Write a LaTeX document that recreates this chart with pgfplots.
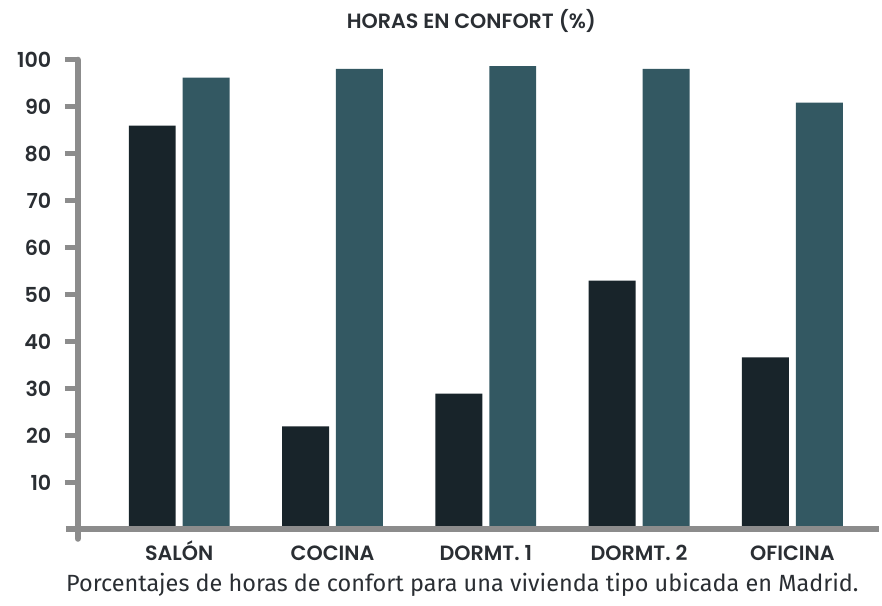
\documentclass[border=0pt]{standalone}
\usepackage{pgfplots}
\pgfplotsset{compat=1.18}
\usepackage{fontspec}
\setmainfont{Fira Sans}
\newfontfamily\pop{Poppins}[UprightFont=* SemiBold]
\definecolor{darkbar}{HTML}{18242A}
\definecolor{tealbar}{HTML}{335862}
\definecolor{axgray}{HTML}{8C8C8C}
\definecolor{txt}{HTML}{2A2E33}
\begin{document}
\begin{tikzpicture}
\begin{axis}[
  scale only axis,
  width=601.5pt, height=352.5pt,
  xmin=-0.661, xmax=4.564,
  ymin=0, ymax=100,
  axis on top=true,
  axis x line*=bottom, axis y line*=left,
  axis line style={-, line width=4.8pt, color=axgray},
  x axis line style={shorten <=-9pt},
  y axis line style={shorten <=-7pt, line cap=round},
  xtick={0,1,2,3,4},
  xticklabels={SALÓN, COCINA, DORMT. 1, DORMT. 2, OFICINA},
  ytick={10,20,...,100},
  major x tick style={draw=none},
  tick align=outside,
  major tick length=9.75pt,
  major y tick style={line width=3.8pt, color=axgray},
  xticklabel style={font=\pop\fontsize{15.5}{16}\selectfont, text=txt, anchor=base, inner sep=0pt, yshift=-14pt},
  yticklabel style={font=\pop\fontsize{15.5}{16}\selectfont, text=txt, anchor=east, inner sep=0pt, xshift=-10pt},
  /pgf/number format/assume math mode=true,
  ybar, bar width=35.25pt,
  clip=false,
]
\addplot[fill=darkbar, draw=none, bar shift=-20.25pt] coordinates {(0,86.0) (1,21.9) (2,28.9) (3,53.0) (4,36.6)};
\addplot[fill=tealbar, draw=none, bar shift=20.25pt] coordinates {(0,96.2) (1,98.1) (2,98.7) (3,98.1) (4,90.9)};
\coordinate (O) at (rel axis cs:0,0);
\end{axis}
\node[font=\pop\fontsize{15.5}{16}\selectfont, text=txt] at ([shift={(295.5pt,381.75pt)}]O) {HORAS EN CONFORT (\%)};
\node[font=\fontsize{17.6}{19}\selectfont, text=txt] at ([shift={(288.75pt,-41.5pt)}]O) {Porcentajes de horas de confort para una vivienda tipo ubicada en Madrid.};
\path[use as bounding box] ([shift={(-58.5pt,-57pt)}]O) rectangle ([shift={(603pt,397.5pt)}]O);
\end{tikzpicture}
\end{document}
